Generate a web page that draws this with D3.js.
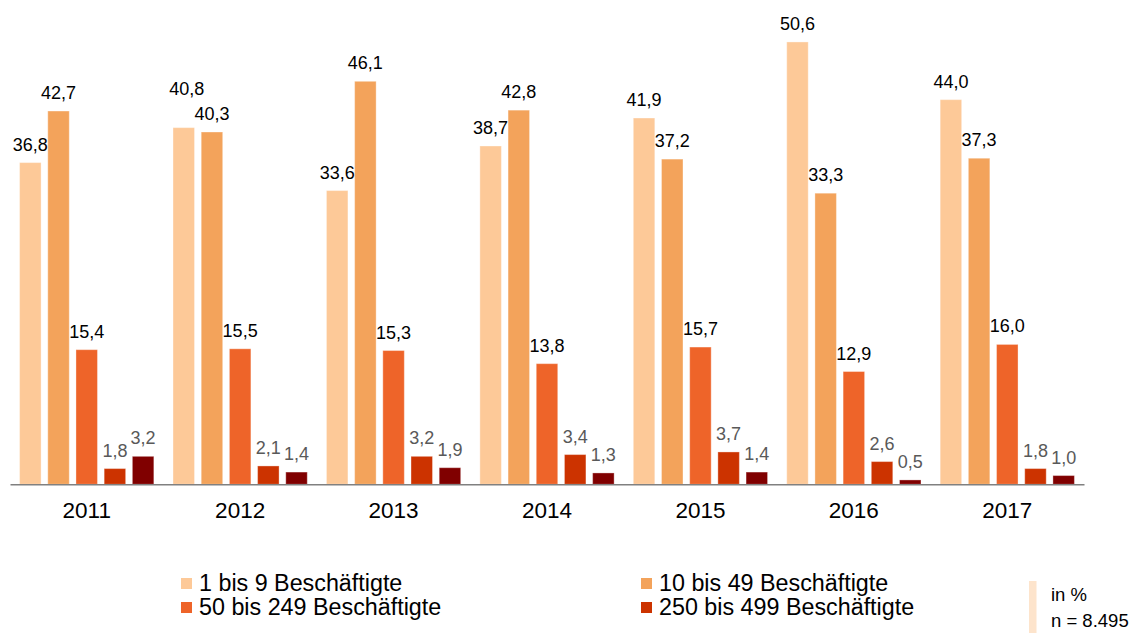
<!DOCTYPE html>
<html>
<head>
<meta charset="utf-8">
<script src="https://cdn.jsdelivr.net/npm/d3@7"></script>
<style>
  body { margin: 0; background: #fff; }
  svg { display: block; font-family: "Liberation Sans", Arial, sans-serif; }
</style>
</head>
<body>
<div id="chart"></div>
<script>
/*
 * Data
 *****************************/
const years = ["2011", "2012", "2013", "2014", "2015", "2016", "2017"];
const seriesNames = ["1 bis 9 Beschäftigte", "10 bis 49 Beschäftigte", "50 bis 249 Beschäftigte", "250 bis 499 Beschäftigte", "500 und mehr Beschäftigte"];
const s1to9 = [36.8, 40.8, 33.6, 38.7, 41.9, 50.6, 44.0];
const s10to49 = [42.7, 40.3, 46.1, 42.8, 37.2, 33.3, 37.3];
const s50to249 = [15.4, 15.5, 15.3, 13.8, 15.7, 12.9, 16.0];
const s250to499 = [1.8, 2.1, 3.2, 3.4, 3.7, 2.6, 1.8];
const s500plus = [3.2, 1.4, 1.9, 1.3, 1.4, 0.5, 1.0];
const seriesValues = [s1to9, s10to49, s50to249, s250to499, s500plus];
const noteLines = ["in %", "n = 8.495"];

/*
 * Parameters
 *****************************/
const width = 1137, height = 633;
const colors = ["#fdc998", "#f3a35b", "#ee6429", "#cc3300", "#800000"];
const labelColors = ["#000", "#000", "#000", "#595959", "#595959"];
const baseY = 484.3;

const svg = d3.select("#chart").append("svg")
  .attr("width", width)
  .attr("height", height);

// group scale (years) and bar scale inside each group
const x0 = d3.scaleBand()
  .domain(years)
  .range([10, 1084])
  .paddingInner(0.125)
  .paddingOuter(0.0625);

const x1 = d3.scaleBand()
  .domain(d3.range(seriesNames.length))
  .range([0, x0.bandwidth()])
  .paddingInner(0.2376);

const y = d3.scaleLinear()
  .domain([0, 55.4])
  .range([baseY, 0]);

// rows: one per year/series
const rows = [];
years.forEach((yr, i) => {
  seriesValues.forEach((vals, k) => {
    rows.push({ year: yr, k: k, value: vals[i] });
  });
});

const fmt = v => d3.format(".1f")(v).replace(".", ",");

// bars
svg.append("g").selectAll("rect")
  .data(rows)
  .enter()
  .append("rect")
  .attr("x", d => x0(d.year) + x1(d.k))
  .attr("y", d => y(d.value))
  .attr("width", x1.bandwidth())
  .attr("height", d => baseY - y(d.value))
  .attr("fill", d => colors[d.k])
  .attr("stroke", "rgba(255,255,255,0.35)")
  .attr("stroke-width", 1);

// value labels
const labels = svg.append("g").selectAll("text")
  .data(rows)
  .enter()
  .append("text")
  .attr("x", d => x0(d.year) + x1(d.k) + x1.bandwidth() / 2)
  .attr("y", d => y(d.value) - 12)
  .attr("text-anchor", "middle")
  .style("font-size", "18px")
  .attr("fill", d => labelColors[d.k])
  .text(d => fmt(d.value));

// lift a label when it would collide with the next label in its group
const labelNodes = labels.nodes();
labelNodes.forEach((node, i) => {
  const next = labelNodes[i + 1];
  if (!next || rows[i + 1].year !== rows[i].year) return;
  const a = node.getBBox(), b = next.getBBox();
  const overlapX = a.x + a.width > b.x;
  const overlapY = Math.abs(a.y - b.y) < a.height;
  if (overlapX && overlapY) {
    d3.select(node)
      .attr("y", +d3.select(node).attr("y") - 21)
      .attr("dx", 3);
  }
});

// x axis
const xAxisG = svg.append("g")
  .attr("transform", "translate(0," + baseY + ")")
  .call(d3.axisBottom(x0).tickSize(0).tickSizeOuter(0).tickPadding(18));
xAxisG.select(".domain")
  .attr("stroke", "#808080")
  .attr("stroke-width", 1.5);
xAxisG.selectAll("text")
  .style("font-size", "22.5px")
  .style("font-family", "'Liberation Sans', Arial, sans-serif")
  .attr("fill", "#000");

// legend (only first four series are listed)
const legendItems = seriesNames.slice(0, 4).map((name, k) => ({ name: name, k: k }));
const legendX = [181, 641];
const legendY = [591, 615];
const legend = svg.append("g").selectAll("g")
  .data(legendItems)
  .enter()
  .append("g")
  .attr("transform", d => "translate(" + legendX[d.k % 2] + "," + legendY[Math.floor(d.k / 2)] + ")");
legend.append("rect")
  .attr("x", 0)
  .attr("y", -13)
  .attr("width", 11)
  .attr("height", 11)
  .attr("fill", d => colors[d.k]);
legend.append("text")
  .attr("x", 18)
  .attr("y", 0)
  .style("font-size", "23.3px")
  .attr("fill", "#000")
  .text(d => d.name);

// note box
svg.append("rect")
  .attr("x", 1029)
  .attr("y", 581)
  .attr("width", 7.5)
  .attr("height", 52)
  .attr("fill", "#fde4cc");
svg.append("g").selectAll("text")
  .data(noteLines)
  .enter()
  .append("text")
  .attr("x", 1051)
  .attr("y", (d, i) => 601 + i * 26)
  .style("font-size", "18.5px")
  .attr("fill", "#000")
  .text(d => d);
</script>
</body>
</html>
